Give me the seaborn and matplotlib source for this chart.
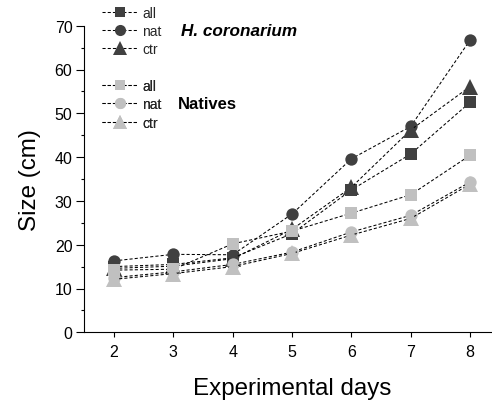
import matplotlib
matplotlib.use('Agg')
import matplotlib.pyplot as plt
import seaborn as sns
from matplotlib.lines import Line2D
from matplotlib.ticker import MultipleLocator

# ---- data ----
days = [2, 3, 4, 5, 6, 7, 8]
hc_all = [15.0, 15.5, 17.0, 22.5, 32.5, 40.7, 52.5]
hc_nat = [16.3, 17.8, 17.7, 27.0, 39.6, 47.0, 66.7]
hc_ctr = [14.6, 15.1, 16.8, 23.5, 33.1, 46.2, 56.1]
nv_all = [14.2, 14.4, 20.2, 23.1, 27.2, 31.4, 40.4]
nv_nat = [12.5, 13.8, 15.5, 18.3, 22.9, 26.7, 34.3]
nv_ctr = [12.1, 13.4, 15.0, 18.0, 22.2, 26.0, 33.8]
series_labels = ["all", "nat", "ctr"]
group_titles = ["H. coronarium", "Natives"]
x_ticks = [2, 3, 4, 5, 6, 7, 8]
y_ticks = [0, 10, 20, 30, 40, 50, 60, 70]

sns.set_theme(style="ticks")
plt.rcParams['font.family'] = ['Liberation Sans', 'DejaVu Sans']

W, H = 492, 402
fig = plt.figure(figsize=(W / 100, H / 100), dpi=100)
ax = fig.add_axes([84.3 / W, 68.7 / H, (499.7 - 84.3) / W, (375.3 - 68.7) / H])

dark = "#404040"
light = "#c0c0c0"
markers = ["s", "o", "^"]
msizes = [8.4, 8.9, 11.0]
ls = (0, (3, 2))

groups = [(dark, [hc_all, hc_nat, hc_ctr]), (light, [nv_all, nv_nat, nv_ctr])]
for col, vals_list in groups:
    for vals, mk, ms in zip(vals_list, markers, msizes):
        sns.lineplot(x=days, y=vals, ax=ax, color="black", linestyle=ls, linewidth=0.75,
                     marker=mk, markersize=ms, markerfacecolor=col,
                     markeredgecolor=col, markeredgewidth=0, legend=False)

ax.set_xlim(1.5, 8.5)
ax.set_ylim(0, 70)
ax.set_xticks(x_ticks)
ax.set_yticks(y_ticks)
ax.yaxis.set_minor_locator(MultipleLocator(5))
ax.tick_params(axis='both', which='both', direction='out', color='black', width=0.8,
               labelsize=11.5, labelcolor='black')
ax.tick_params(axis='y', which='major', length=5.5, pad=3)
ax.tick_params(axis='y', which='minor', length=2.5)
ax.tick_params(axis='x', which='major', length=3.5, pad=5)
for s in ['top', 'right']:
    ax.spines[s].set_visible(False)
for s in ['left', 'bottom']:
    ax.spines[s].set_color('black')
    ax.spines[s].set_linewidth(0.8)

ax.set_xlabel("Experimental days", fontsize=17.4, color='black')
ax.set_ylabel("Size (cm)", fontsize=17.4, color='black')
ax.xaxis.set_label_coords(0.5, -0.146)
ax.yaxis.set_label_coords(-0.104, 0.5)

# ---- legends ----
tops = [6.5, 80.0]
for (col, _), top in zip(groups, tops):
    handles = [Line2D([], [], color='black', linestyle=ls, linewidth=0.75, marker=mk,
                      markersize=ms * 0.9, markerfacecolor=col, markeredgecolor=col,
                      markeredgewidth=0)
               for mk, ms in zip(markers, msizes)]
    leg = ax.legend(handles, series_labels, loc='upper left',
                    bbox_to_anchor=(101.7 / W, 1 - top / H), bbox_transform=fig.transFigure,
                    frameon=False, fontsize=10, handlelength=2.6, handletextpad=0.3,
                    labelspacing=0.31, borderpad=0, borderaxespad=0)
    ax.add_artist(leg)

fig.text(180.7 / W, 1 - 31 / H, group_titles[0], fontsize=12.3, fontweight='bold',
         style='italic', va='center', ha='left', color='black')
fig.text(178.3 / W, 1 - 104.3 / H, group_titles[1], fontsize=12, fontweight='bold',
         va='center', ha='left', color='black')

fig.savefig("out.png", dpi=100)
